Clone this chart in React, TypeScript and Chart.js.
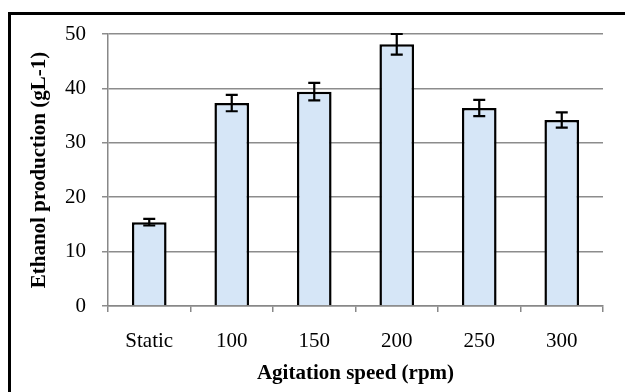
import React, { useEffect, useRef } from "react";
import { Chart, registerables } from "chart.js";

Chart.register(...registerables);

const categories = ["Static", "100", "150", "200", "250", "300"];
const ethanol = [15.4, 37.3, 39.4, 48.1, 36.4, 34.2];
const errors = [0.6, 1.5, 1.6, 1.9, 1.5, 1.4];
const yTicks = [0, 10, 20, 30, 40, 50];

const FONT = "'Liberation Serif', 'Times New Roman', serif";

const errorBarPlugin = {
  id: "errorBars",
  afterDatasetsDraw(chart: any) {
    const ctx = chart.ctx;
    const meta = chart.getDatasetMeta(0);
    const y = chart.scales.y;
    ctx.save();
    ctx.strokeStyle = "#000";
    ctx.lineWidth = 2.2;
    meta.data.forEach((bar: any, i: number) => {
      const x = bar.x;
      const top = y.getPixelForValue(ethanol[i] + errors[i]);
      const bot = y.getPixelForValue(ethanol[i] - errors[i]);
      ctx.beginPath();
      ctx.moveTo(x, top);
      ctx.lineTo(x, bot);
      ctx.moveTo(x - 6, top);
      ctx.lineTo(x + 6, top);
      ctx.moveTo(x - 6, bot);
      ctx.lineTo(x + 6, bot);
      ctx.stroke();
    });
    ctx.restore();
  },
};

const framePlugin = {
  id: "frame",
  beforeDraw(chart: any) {
    const ctx = chart.ctx;
    ctx.save();
    ctx.fillStyle = "#fff";
    ctx.fillRect(0, 0, chart.width, chart.height);
    ctx.strokeStyle = "#000";
    ctx.lineWidth = 3;
    ctx.strokeRect(9.5, 13.5, 800, 600);
    ctx.restore();
  },
};

export default function App() {
  const ref = useRef<HTMLCanvasElement>(null);
  useEffect(() => {
    document.body.style.margin = "0";
    const chart = new Chart(ref.current!, {
      type: "bar",
      data: {
        labels: categories,
        datasets: [
          {
            data: ethanol,
            backgroundColor: "#d6e6f7",
            borderColor: "#000",
            borderWidth: 2.5,
            barPercentage: 0.42,
            categoryPercentage: 1,
          },
        ],
      },
      options: {
        responsive: false,
        animation: false,
        layout: { padding: { top: 34, right: 22, left: 0, bottom: 0 } },
        plugins: { legend: { display: false }, tooltip: { enabled: false } },
        scales: {
          x: {
            grid: {
              display: true,
              drawOnChartArea: false,
              drawTicks: true,
              tickLength: 6,
              color: "#888",
              lineWidth: 1.5,
              offset: true,
            },
            border: { color: "#888", width: 1.5 },
            ticks: {
              color: "#000",
              padding: 17,
              font: { family: FONT, size: 21 },
            },
            title: {
              display: true,
              text: "Agitation speed (rpm)",
              color: "#000",
              font: { family: FONT, size: 21, weight: "bold" },
              padding: { top: 0, bottom: 6 },
            },
            afterFit(scale: any) {
              scale.height = 86;
            },
          },
          y: {
            min: 0,
            max: 50,
            afterBuildTicks(scale: any) {
              scale.ticks = yTicks.map((v) => ({ value: v }));
            },
            grid: {
              color: "#8c8c8c",
              lineWidth: 1.5,
              tickLength: 6,
            },
            border: { color: "#888", width: 1.5 },
            ticks: {
              color: "#000",
              padding: 16,
              font: { family: FONT, size: 21 },
            },
            title: {
              display: true,
              text: "Ethanol production (gL-1)",
              color: "#000",
              font: { family: FONT, size: 21, weight: "bold" },
              padding: { top: 27, bottom: 0 },
            },
            afterFit(scale: any) {
              scale.width = 108;
            },
          },
        },
      },
      plugins: [framePlugin, errorBarPlugin],
    });
    return () => chart.destroy();
  }, []);
  return (
    <div style={{ position: "absolute", left: 0, top: 0 }}>
      <canvas ref={ref} width={625} height={392} />
    </div>
  );
}
